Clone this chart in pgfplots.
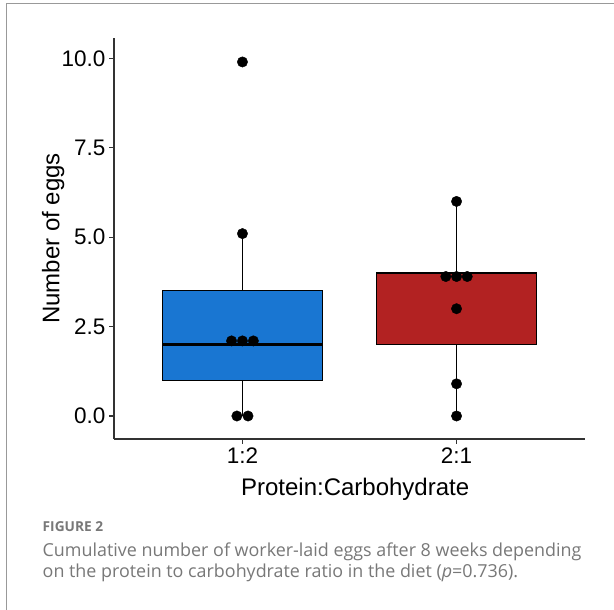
\documentclass[border=0pt]{standalone}
\usepackage{pgfplots}
\pgfplotsset{compat=1.18}
\usepgfplotslibrary{statistics}
\usepackage{fontspec}
\setmainfont{Liberation Sans}
\newfontfamily\capfont{Open Sans}
\definecolor{boxblue}{RGB}{25,118,210}
\definecolor{boxred}{RGB}{178,34,34}
\definecolor{capgray}{RGB}{120,120,120}
\definecolor{axgray}{RGB}{51,51,51}
\begin{document}
\begin{tikzpicture}[x=1pt,y=1pt]
\path[use as bounding box] (0,0) rectangle (614,610);
\fill[white] (0,0) rectangle (614,610);
\draw[line width=1pt, black!40] (6,0) -- (6,606) -- (614,606);
\begin{axis}[
  at={(114pt,171pt)}, anchor=south west,
  scale only axis, width=471pt, height=401pt,
  xmin=0.4, xmax=2.6, ymin=-0.643, ymax=10.57,
  boxplot/draw direction=y,
  axis x line*=bottom, axis y line*=left,
  axis line style={-, axgray, line width=1.2pt},
  xtick={1,2}, xticklabels={1:2,2:1},
  ytick={0,2.5,5,7.5,10},
  yticklabel style={/pgf/number format/.cd, fixed, fixed zerofill, precision=1},
  /pgf/number format/assume math mode=true,
  tick align=outside, major tick length=5pt,
  tick style={axgray, line width=1.2pt},
  ticklabel style={font=\fontsize{22.5}{26}\selectfont, black},
  xlabel={Protein:Carbohydrate},
  ylabel={Number of eggs},
  label style={font=\fontsize{24}{28}\selectfont, black},
  xlabel style={at={(axis description cs:0.512,0)}, anchor=north, yshift=-36pt},
  ylabel style={at={(axis description cs:0,0.5)}, anchor=south, yshift=46pt},
  clip=false,
]
\addplot+[boxplot prepared={draw position=1, box extend=0.75, whisker extend=0,
  lower whisker=0, lower quartile=1, median=2, upper quartile=3.5, upper whisker=5.1},
  fill=boxblue, draw=black, line width=1pt, solid, mark=none,
  boxplot/every median/.style={line width=2.2pt}]
  coordinates {};
\addplot+[boxplot prepared={draw position=2, box extend=0.75, whisker extend=0,
  lower whisker=0, lower quartile=2, median=4, upper quartile=4, upper whisker=6},
  fill=boxred, draw=black, line width=1pt, solid, mark=none,
  boxplot/every median/.style={line width=2.2pt}]
  coordinates {};
\addplot[only marks, mark=*, mark size=5.2pt, black] coordinates {
  (1,9.9) (1,5.1) (0.949,2.1) (1,2.1) (1.051,2.1) (0.974,0) (1.026,0)
  (2,6) (1.95,3.9) (2,3.9) (2.05,3.9) (2,3) (2,0.9) (2,0)
};
\end{axis}
\node[anchor=base west, inner sep=0, text=capgray, font=\capfont\fontsize{13.7}{16}\selectfont\bfseries] at (42.5,78.3) {FIGURE 2};
\node[anchor=base west, inner sep=0, text=capgray, font=\capfont\fontsize{17.9}{21}\selectfont] at (42.5,53.3) {Cumulative number of worker-laid eggs after 8 weeks depending};
\node[anchor=base west, inner sep=0, text=capgray, font=\capfont\fontsize{17.9}{21}\selectfont] at (42.5,32.3) {on the protein to carbohydrate ratio in the diet (\textit{p}=0.736).};
\end{tikzpicture}
\end{document}
